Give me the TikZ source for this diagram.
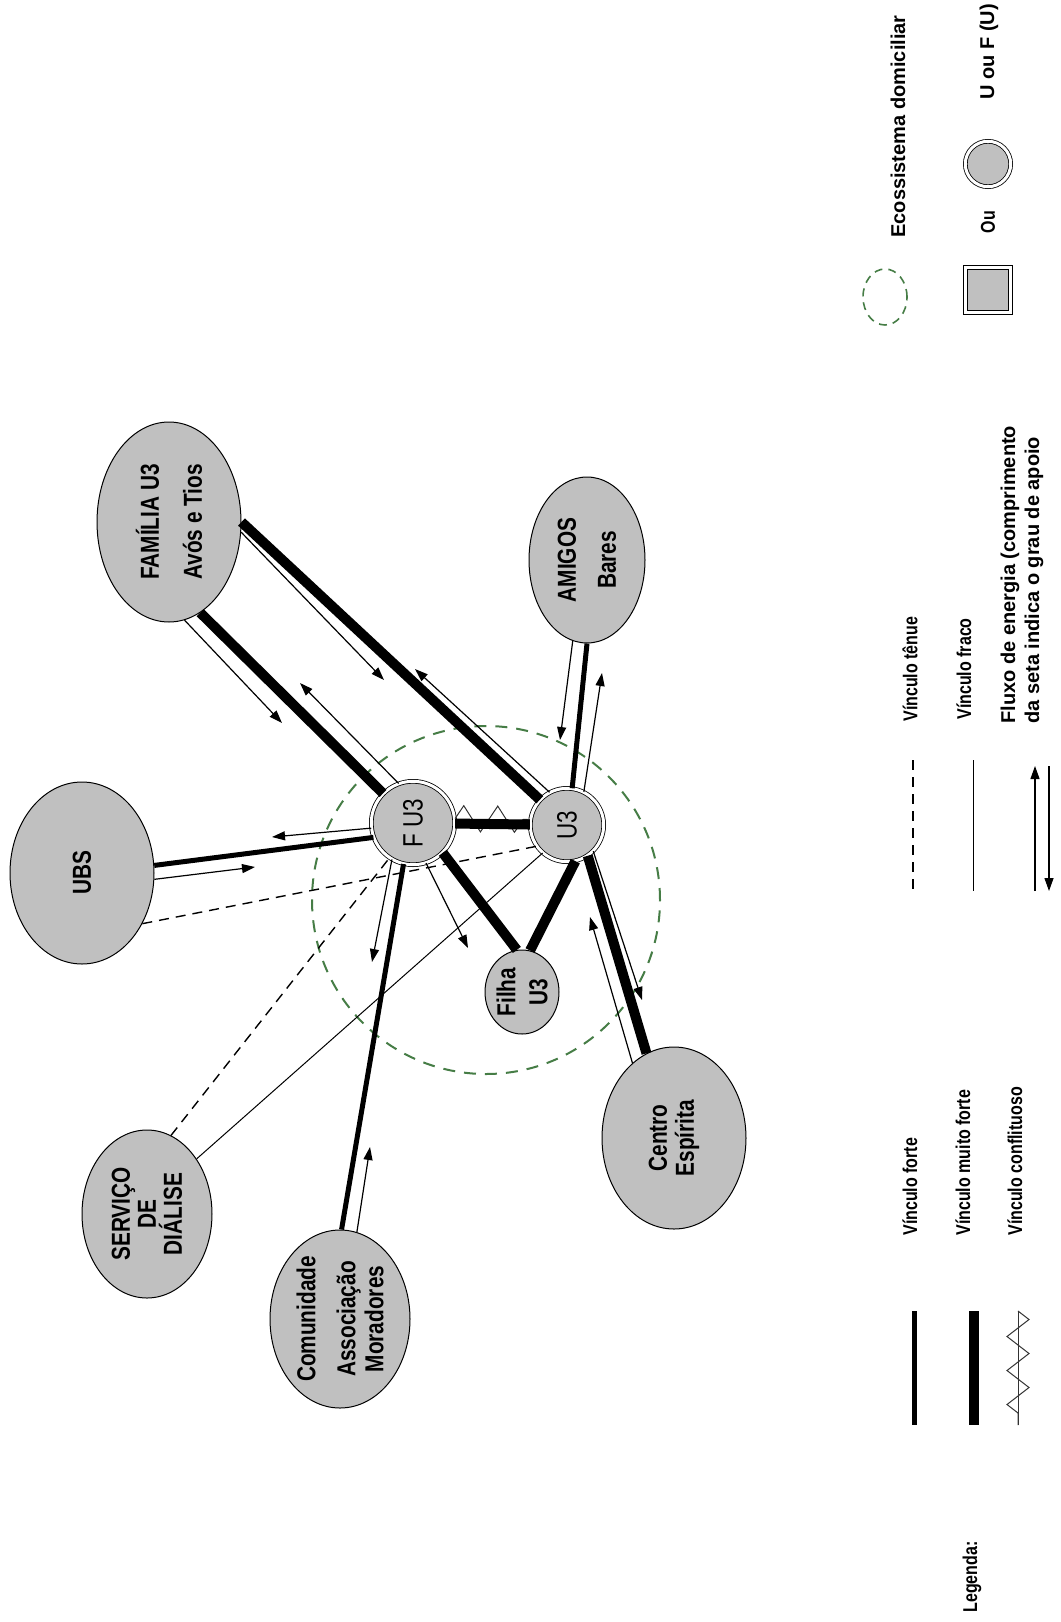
\documentclass[tikz,border=0pt]{standalone}
\usepackage{fontspec}
\setmainfont{Liberation Sans}
\newfontfamily\narrowsans[FakeStretch=0.8]{Liberation Sans}
\usetikzlibrary{shapes.geometric,arrows.meta,decorations.pathmorphing}
\definecolor{nodegray}{RGB}{192,192,192}
\definecolor{ecogreen}{RGB}{70,125,70}
\tikzset{
  place/.style={ellipse, draw, line width=0.5pt, fill=nodegray, inner sep=0pt},
  member/.style={circle, draw, fill=nodegray, line width=0.4pt, double, double distance=1.5pt, inner sep=0pt},
  lbl/.style={rotate=90, align=center, inner sep=0pt,
    font=\narrowsans\bfseries\fontsize{13}{14}\selectfont},
  memberlbl/.style={rotate=90, inner sep=0pt,
    font=\narrowsans\fontsize{14}{15}\selectfont},
  eco/.style={draw=ecogreen, line width=1pt, dash pattern=on 6pt off 4.5pt},
  verystrong/.style={line width=5pt},
  strongtie/.style={line width=2.5pt},
  weaktie/.style={line width=0.5pt},
  tenuous/.style={line width=0.7pt, dash pattern=on 5pt off 3.5pt},
  flow/.style={line width=0.6pt, -{Triangle[length=6.5pt,width=4.5pt]}},
  conflict/.style={decorate, decoration={zigzag, segment length=14pt, amplitude=7pt},
    line width=0.5pt, draw=black!80},
  legtext/.style={rotate=90, anchor=west, inner sep=0pt, align=left,
    font=\narrowsans\bfseries\fontsize{10}{12}\selectfont},
  legwide/.style={legtext, font=\bfseries\fontsize{10}{12}\selectfont},
}
\begin{document}
\begin{tikzpicture}[x=0.5pt,y=-0.5pt]
\useasboundingbox (0,0) rectangle (1060,1622);

% household ecosystem
\node[eco, circle, minimum size=174pt, inner sep=0pt] (eco) at (486,900) {};

% people and institutions
\node[place, minimum width=72pt, minimum height=100pt] (fam) at (169,522) {};
\node[place, minimum width=72pt, minimum height=91pt]  (ubs) at (82,873) {};
\node[place, minimum width=58pt, minimum height=83pt]  (ami) at (587,560) {};
\node[place, minimum width=65pt, minimum height=84pt]  (srv) at (147,1214) {};
\node[place, minimum width=70pt, minimum height=89pt]  (com) at (340,1319) {};
\node[place, minimum width=72pt, minimum height=91pt]  (cen) at (674,1138) {};
\node[place, minimum width=37pt, minimum height=42pt]  (fil) at (522,992) {};
\node[member, minimum size=41.7pt] (fu3) at (413,823) {};
\node[member, minimum size=36.7pt] (u3)  at (567,825) {};

\node[lbl] (famT) at (fam) {FAMÍLIA U3\\[7.5pt]Avós e Tios};
\node[lbl] (ubsT) at (ubs) {UBS};
\node[lbl] (amiT) at (ami) {AMIGOS\\[6pt]Bares};
\node[lbl, font=\narrowsans\bfseries\fontsize{13}{13}\selectfont] (srvT) at (srv) {SERVIÇO\\DE\\DIÁLISE};
\node[lbl] (comT) at (com) {Comunidade\\[6pt]Associação\\Moradores};
\node[lbl, font=\narrowsans\bfseries\fontsize{13}{13.5}\selectfont] (cenT) at (cen) {Centro\\Espírita};
\node[lbl, font=\narrowsans\bfseries\fontsize{13}{16}\selectfont] (filT) at (fil) {Filha\\U3};
\node[memberlbl] (fu3T) at (fu3) {F U3};
\node[memberlbl] (u3T) at (u3) {U3};

% ties (the conflict zigzag rides mostly above the very strong tie)
\draw[conflict, decoration={zigzag, segment length=17pt, amplitude=6.5pt},
      transform canvas={yshift=2.5pt}] (fu3) -- (u3);
\draw[verystrong] (fu3) -- (u3);
\draw[verystrong] (fam.-71) -- (fu3);
\draw[verystrong] (fam.0) -- (u3);
\draw[verystrong] (fu3.-45) -- (fil.97);
\draw[verystrong] (u3.-77) -- (fil.79);
\draw[verystrong] (cen.108) -- (u3.-56);
\draw[strongtie] (ubs.6) -- (fu3.200);
\draw[strongtie] (com.89) -- (fu3.-103);
\draw[strongtie] (ami.-90) -- (u3.82);
\draw[weaktie] (srv.48) -- (u3.-131);
\draw[tenuous] (srv.73) -- (fu3.-124);
\draw[tenuous] (ubs.-40) -- (u3.-145);

% energy flow ends
\coordinate (fa1) at (282,723);
\coordinate (fa2) at (300,683);
\coordinate (fa3) at (384,680);
\coordinate (fa4) at (415,669);
\coordinate (fa5) at (272,837);
\coordinate (fa6) at (255,867);
\coordinate (fa7) at (370,1147);
\coordinate (fa8) at (372,962);
\coordinate (fa9) at (468,948);
\coordinate (fa10) at (560,740);
\coordinate (fa11) at (602,673);
\coordinate (fa12) at (642,1000);
\coordinate (fa13) at (590,917);

% energy flows
\draw[flow] (fam.-81) -- (fa1);
\draw[flow] (fu3.110) -- (fa2);
\draw[flow] (fam.-8) -- (fa3);
\draw[flow] (u3.118) -- (fa4);
\draw[flow] (fu3.187) -- (fa5);
\draw[flow] (ubs.-5) -- (fa6);
\draw[flow] (com.79) -- (fa7);
\draw[flow] (fu3.-120) -- (fa8);
\draw[flow] (fu3.-72) -- (fa9);
\draw[flow] (ami.-100) -- (fa10);
\draw[flow] (u3.63) -- (fa11);
\draw[flow] (u3.-45) -- (fa12);
\draw[flow] (cen.119) -- (fa13);

% legend, upper part
\node[ellipse, draw=ecogreen, line width=0.8pt, dash pattern=on 4pt off 3pt,
      minimum width=22pt, minimum height=28pt, inner sep=0pt] (legeco) at (885,297) {};
\node[legwide] (legecoT) at (898,238) {Ecossistema domiciliar};
\node[member, rectangle, minimum size=22.7pt] (legsq) at (988,290) {};
\node[legtext, anchor=center] (legou) at (988,222) {Ou};
\node[member, minimum size=22.7pt] (legci) at (988,164) {};
\node[legwide] (legciT) at (989,100) {U ou F (U)};

\node[legtext] (legtenT) at (910,722) {Vínculo tênue};
\draw[tenuous] (913,760) -- (913,891);
\node[legtext] (legfraT) at (964,720) {Vínculo fraco};
\draw[weaktie] (973,760) -- (973,891);
\node[legwide] (legfluT) at (1022,724) {Fluxo de energia (comprimento\\da seta indica o grau de apoio};
\draw[flow] (1035,891) -- (1035,766);
\draw[flow] (1049,766) -- (1049,891);

% legend, lower part
\node[legtext] (legforT) at (910,1236) {Vínculo forte};
\draw[strongtie] (914,1311) -- (914,1425);
\node[legtext] (legmfoT) at (963,1236) {Vínculo muito forte};
\draw[verystrong] (974,1311) -- (974,1425);
\node[legtext] (legconT) at (1015,1236) {Vínculo conflituoso};
\draw[line width=0.5pt, black!80] (1018,1311) -- (1018,1425);
\draw[conflict, decoration={zigzag, segment length=17pt, amplitude=5.5pt}] (1018,1311) -- (1018,1425);

\node[legtext] (legT) at (972,1613) {Legenda:};
\end{tikzpicture}
\end{document}
